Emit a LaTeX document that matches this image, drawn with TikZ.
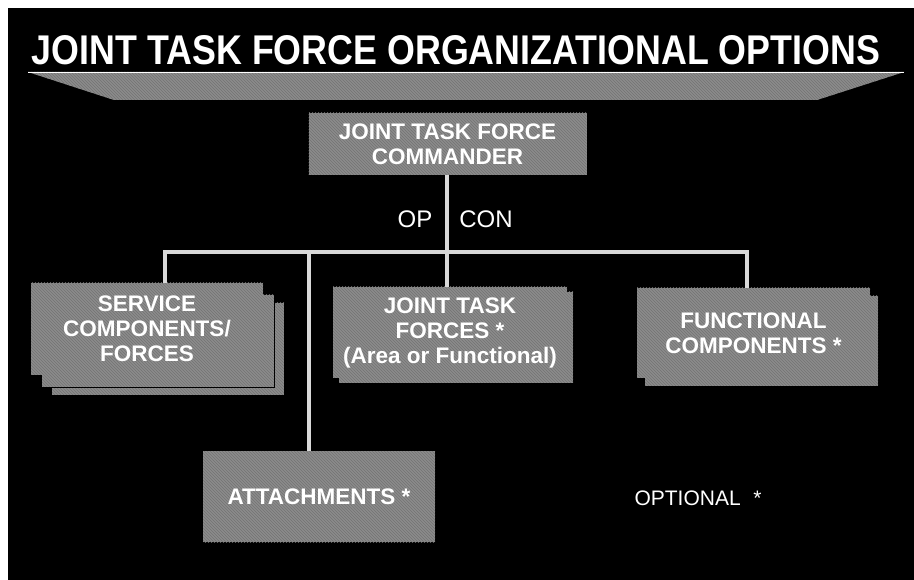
\documentclass[tikz,border=0pt]{standalone}
\usepackage{fontspec}
\setmainfont{Liberation Sans}
\usetikzlibrary{patterns}
\definecolor{boxgray}{gray}{0.55}
\definecolor{linegray}{gray}{0.85}
\tikzset{
  orgbox/.style={draw=none, fill=boxgray, text=white, align=center,
    font=\bfseries\fontsize{22.5}{25}\selectfont, inner sep=0pt,
    postaction={pattern=north west lines, pattern color=black!55}},
  shadowbox/.style={fill=boxgray, draw=none,
    postaction={pattern=north west lines, pattern color=black!55}},
  conn/.style={draw=linegray, line width=4pt},
  plain/.style={text=white, inner sep=0pt, anchor=base},
}
\begin{document}
\begin{tikzpicture}[x=1pt,y=-1pt]
\useasboundingbox (0,0) rectangle (914,580);
\fill[white] (0,0) rectangle (914,580);
\fill[black] (8,8) rectangle (914,580);

% title
\node[plain] (title) at (456,65) {\resizebox{848pt}{29pt}{\bfseries\fontsize{40}{40}\selectfont JOINT TASK FORCE ORGANIZATIONAL OPTIONS}};

% banner
\fill[boxgray, postaction={pattern=north west lines, pattern color=black!55}]
  (28,72) -- (904,72) -- (817,100) -- (114,100) -- cycle;
\draw[white, line width=1.5pt] (28,72.5) -- (904,72.5);

% bus coordinates
\coordinate (bL) at (165,252);
\coordinate (bA) at (309,252);
\coordinate (bM) at (447,252);
\coordinate (bR) at (747,252);

% service stack (behind)
\fill[shadowbox] (52,303) rectangle (284,395);
\fill[shadowbox] (42,295) rectangle (274,387);
\draw[black, line width=0.8pt] (52,395) -- (284,395) -- (284,303);
\draw[black, line width=0.8pt] (42,387) -- (274,387) -- (274,295);

% shadows
\fill[shadowbox] (339,292) rectangle (573,383);
\fill[shadowbox] (645,296) rectangle (878,386);

% nodes
\node[orgbox, minimum width=278pt, minimum height=62pt] (cmd) at (447.5,144)
  {JOINT TASK FORCE\\COMMANDER};
\node[orgbox, minimum width=232pt, minimum height=92pt] (svc) at (147,329)
  {SERVICE\\COMPONENTS/\\FORCES};
\node[orgbox, minimum width=234pt, minimum height=91pt] (jtf) at (450,332.5)
  {JOINT TASK\\FORCES *\\(Area or Functional)};
\node[orgbox, minimum width=233pt, minimum height=90pt] (fun) at (753.5,333)
  {FUNCTIONAL\\COMPONENTS *};
\node[orgbox, minimum width=232pt, minimum height=91pt] (att) at (319,496.5)
  {ATTACHMENTS *};

% connectors
\draw[conn] (cmd.south -| bM) -- (bM);
\draw[conn] ([xshift=-2pt]bL) -- ([xshift=2pt]bR);
\draw[conn] (bL) -- (bL |- svc.north);
\draw[conn] (bA) -- (bA |- att.north);
\draw[conn] (bM) -- (bM |- jtf.north);
\draw[conn] (bR) -- (bR |- fun.north);

% labels
\node[plain, font=\fontsize{24}{24}\selectfont] (op) at (415,228) {OP};
\node[plain, font=\fontsize{24}{24}\selectfont] (con) at (486,228) {CON};
\node[plain, font=\fontsize{21}{21}\selectfont] (opt) at (698,505) {OPTIONAL\hspace{0.6em}*};
\end{tikzpicture}
\end{document}
